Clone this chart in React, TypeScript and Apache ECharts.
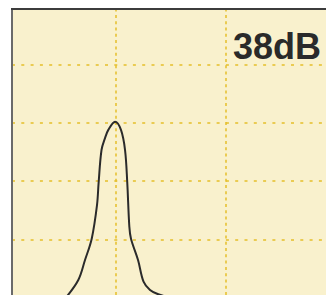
import React, { useEffect, useRef } from "react";
import * as echarts from "echarts";

// curve samples (x in grid units, y in dB above floor)
const curveX = [5.46, 6.6, 7.21, 7.82, 8.3, 8.45, 8.71, 9.03, 9.33, 9.94, 10.48, 10.85, 11.05, 11.24, 11.39, 12.03, 12.53, 13.12, 13.87, 14.94];
const curveY = [0, 3.05, 6.48, 10.14, 15.9, 19.8, 25.35, 27.4, 28.8, 30.2, 28.8, 25.35, 19.8, 12.2, 10.14, 6.48, 2.76, 1.34, 0.6, 0.05];
const levelLabel = "38dB";

export default function App() {
  const ref = useRef<HTMLDivElement>(null);
  useEffect(() => {
    if (!ref.current) return;
    const chart = echarts.init(ref.current, null, { renderer: "svg" });
    const gridColor = "#e5bf2a";
    chart.setOption({
      animation: false,
      backgroundColor: "#ffffff",
      grid: {
        left: 5.7,
        top: 6.3,
        width: 440,
        height: 291.5,
        outerBoundsMode: "none",
        containLabel: false,
        show: true,
        backgroundColor: "#f9f1cd",
        borderWidth: 0,
      },
      xAxis: {
        type: "value",
        min: 0,
        max: 40,
        interval: 10,
        axisLine: { show: false },
        axisTick: { show: false },
        axisLabel: { show: false },
        splitLine: {
          show: true,
          lineStyle: { color: gridColor, width: 1.5, type: [3, 3.3], dashOffset: 4 },
        },
      },
      yAxis: {
        type: "value",
        min: 0,
        max: 50,
        interval: 10,
        axisLine: { show: false },
        axisTick: { show: false },
        axisLabel: { show: false },
        splitLine: {
          show: true,
          lineStyle: { color: gridColor, width: 1.5, type: [3, 6.3], dashOffset: 2.7 },
        },
      },
      series: [
        {
          type: "line",
          data: curveX.map((x, i) => [x, curveY[i]]),
          showSymbol: false,
          symbol: "none",
          smooth: 0.35,
          lineStyle: { color: "#2b2b2b", width: 2 },
          z: 5,
        },
      ],
      graphic: [
        { type: "rect", z: 100, shape: { x: 0, y: 0, width: 11, height: 295 }, style: { fill: "#ffffff" } },
        { type: "rect", z: 100, shape: { x: 0, y: 0, width: 326, height: 8 }, style: { fill: "#ffffff" } },
        { type: "rect", z: 101, shape: { x: 11, y: 8, width: 2, height: 287 }, style: { fill: "#6a6a6a" } },
        { type: "rect", z: 102, shape: { x: 11, y: 8, width: 315, height: 2 }, style: { fill: "#3c3c3c" } },
        {
          type: "text",
          z: 103,
          x: 321,
          y: 46,
          style: {
            text: levelLabel,
            align: "right",
            verticalAlign: "middle",
            fill: "#2a2a2a",
            font: "bold 36px 'Liberation Sans', Arial, sans-serif",
          },
        },
      ],
    });
    return () => chart.dispose();
  }, []);
  return (
    <div
      ref={ref}
      style={{ position: "fixed", left: 0, top: 0, width: 326, height: 295 }}
    />
  );
}
